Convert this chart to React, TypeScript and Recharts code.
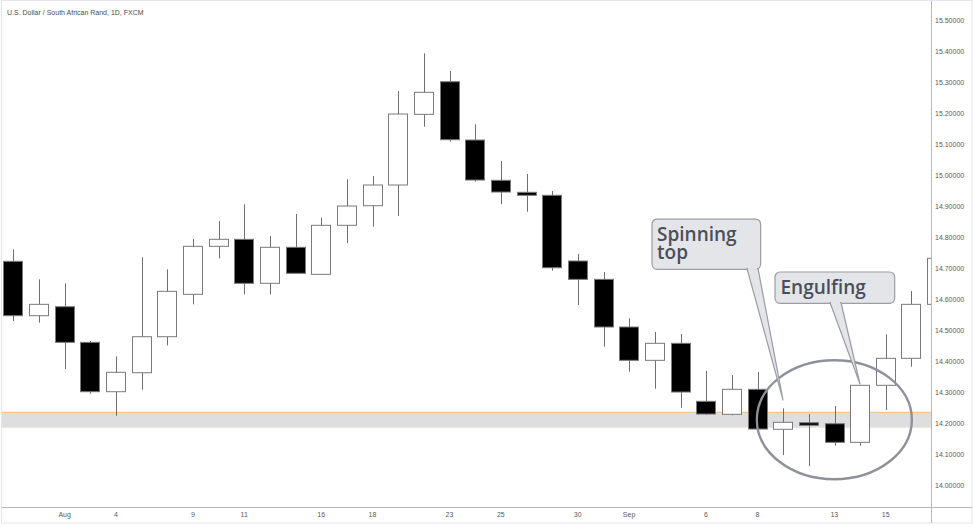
import React from 'react';
import { ComposedChart, Bar, XAxis, YAxis, ReferenceArea, ReferenceLine, ReferenceDot } from 'recharts';

const dates = ['Jul 29', 'Jul 30', 'Aug 2', 'Aug 3', 'Aug 4', 'Aug 5', 'Aug 6', 'Aug 9', 'Aug 10', 'Aug 11', 'Aug 12', 'Aug 13', 'Aug 16', 'Aug 17', 'Aug 18', 'Aug 19', 'Aug 20', 'Aug 23', 'Aug 24', 'Aug 25', 'Aug 26', 'Aug 27', 'Aug 30', 'Aug 31', 'Sep 1', 'Sep 2', 'Sep 3', 'Sep 6', 'Sep 7', 'Sep 8', 'Sep 9', 'Sep 10', 'Sep 13', 'Sep 14', 'Sep 15', 'Sep 16', 'Sep 17'];
const opens = [14.722, 14.5465, 14.5755, 14.4606, 14.3012, 14.3625, 14.4787, 14.6155, 14.7704, 14.793, 14.651, 14.7672, 14.68, 14.8382, 14.9014, 14.9682, 15.1963, 15.3015, 15.1134, 14.9834, 14.9447, 14.935, 14.723, 14.6639, 14.51, 14.4025, 14.4574, 14.2702, 14.2283, 14.3089, 14.1799, 14.2012, 14.1979, 14.1379, 14.3219, 14.409, 14.5832];
const highs = [14.7607, 14.6639, 14.651, 14.4648, 14.4154, 14.7349, 14.6962, 14.7939, 14.852, 14.9059, 14.8036, 14.8746, 14.8627, 14.9866, 14.9972, 15.2715, 15.3932, 15.3361, 15.1641, 15.0457, 15.0037, 14.9488, 14.7455, 14.6875, 14.5381, 14.4939, 14.4874, 14.368, 14.3551, 14.3648, 14.2476, 14.2292, 14.2551, 14.3225, 14.4864, 14.6261, 14.75];
const lows = [14.5293, 14.5239, 14.3745, 14.2947, 14.2238, 14.3077, 14.4509, 14.5832, 14.7317, 14.6155, 14.6155, 14.6825, 14.6795, 14.781, 14.8336, 14.8682, 15.1563, 15.1079, 14.9789, 14.9059, 14.882, 14.6917, 14.581, 14.4464, 14.3657, 14.3109, 14.2496, 14.227, 14.225, 14.1647, 14.0969, 14.0614, 14.1269, 14.1269, 14.2422, 14.3819, 14.57];
const closes = [14.5465, 14.5832, 14.4606, 14.3012, 14.3638, 14.4787, 14.6252, 14.7704, 14.793, 14.651, 14.7672, 14.6833, 14.8382, 14.9004, 14.9682, 15.1973, 15.2673, 15.1144, 14.9843, 14.9456, 14.935, 14.7013, 14.6639, 14.51, 14.4025, 14.4574, 14.3002, 14.2292, 14.3089, 14.1808, 14.2025, 14.1928, 14.1379, 14.3219, 14.409, 14.5832, 14.7317];

const tickIndex = [2, 4, 7, 9, 12, 14, 17, 19, 22, 24, 27, 29, 32, 34];
const tickLabels = ['Aug', '4', '9', '11', '16', '18', '23', '25', '30', 'Sep', '6', '8', '13', '15'];
const priceTicks = [14.0, 14.1, 14.2, 14.3, 14.4, 14.5, 14.6, 14.7, 14.8, 14.9, 15.0, 15.1, 15.2, 15.3, 15.4, 15.5];

const supportTop = 14.2347;
const supportBottom = 14.1863;

const data = dates.map((d, i) => ({
  i,
  date: d,
  o: opens[i],
  h: highs[i],
  l: lows[i],
  c: closes[i],
  range: [lows[i], highs[i]],
}));

const SMALL_FONT = '"Liberation Sans", Arial, sans-serif';
const NOTE_FONT = '"Open Sans", "Noto Sans", sans-serif';
const X_DOMAIN: [number, number] = [-0.4404, 35.787];
const Y_DOMAIN: [number, number] = [13.9276, 15.562];
const MARGIN = { top: 1, right: 0, bottom: 0, left: 2 };

const Candle = (props: any) => {
  const { x, y, width, height, payload } = props;
  if (payload == null || x == null) return null;
  const top = Math.min(y, y + height);
  const hgt = Math.abs(height);
  const span = payload.h - payload.l;
  const py = (v: number) => (span === 0 ? top : top + ((payload.h - v) / span) * hgt);
  const cx = Math.round(x + width / 2) + 0.5;
  const bull = payload.c >= payload.o;
  const bt = py(Math.max(payload.o, payload.c));
  const bb = py(Math.min(payload.o, payload.c));
  const bx = Math.round(x) + 0.5;
  return (
    <g>
      <line x1={cx} x2={cx} y1={top} y2={top + hgt} stroke="#6f6f6f" strokeWidth={1} />
      <rect
        x={bx}
        y={bt}
        width={width - 1}
        height={Math.max(bb - bt, 1.5)}
        fill={bull ? '#ffffff' : '#000000'}
        stroke="#7a7a7a"
        strokeWidth={1}
      />
    </g>
  );
};

const Callout = (props: any) => {
  const { cx, cy, box, tail, lines, textX, textY, lineHeight } = props;
  if (cx == null) return null;
  const [bx1, by1, bx2, by2] = box;
  const [t1, t2] = tail;
  return (
    <g>
      <rect x={cx + bx1} y={cy + by1} width={bx2 - bx1} height={by2 - by1} rx={5} ry={5} fill="#e4e5e9" stroke="#9a9da6" strokeWidth={1.2} />
      <polygon
        points={`${cx + t1},${cy + by2 - 0.8} ${cx},${cy} ${cx + t2},${cy + by2 - 0.8}`}
        fill="#e4e5e9"
        stroke="#9a9da6"
        strokeWidth={1.2}
        strokeLinejoin="round"
      />
      <line x1={cx + t1 + 1} x2={cx + t2 - 1} y1={cy + by2 - 0.8} y2={cy + by2 - 0.8} stroke="#e4e5e9" strokeWidth={2} />
      <text x={cx + textX} y={cy + textY} fontFamily={NOTE_FONT} fontWeight={600} fontSize={19} fill="#4a4e5a">
        {lines.map((t: string, k: number) => (
          <tspan key={k} x={cx + textX} dy={k === 0 ? 0 : lineHeight}>
            {t}
          </tspan>
        ))}
      </text>
    </g>
  );
};

const EllipseMark = (props: any) => {
  const { cx, cy } = props;
  if (cx == null) return null;
  return <ellipse cx={cx} cy={cy} rx={77.5} ry={59.5} fill="none" stroke="#8e919a" strokeWidth={2.4} />;
};

const xTickFormat = (v: number) => tickLabels[tickIndex.indexOf(v)] ?? '';
const yTickFormat = (v: number) => v.toFixed(5);

export default function App() {
  return (
    <div style={{ position: 'absolute', left: 0, top: 0, width: 974, height: 527, background: '#ffffff' }}>
      {/* bottom layer: axes labels and the support zone */}
      <div style={{ position: 'absolute', left: 0, top: 0 }}>
        <ComposedChart width={974} height={527} data={data} margin={MARGIN}>
          <XAxis
            dataKey="i"
            type="number"
            domain={X_DOMAIN}
            allowDataOverflow
            ticks={tickIndex}
            interval={0}
            tickFormatter={xTickFormat}
            axisLine={false}
            tickLine={false}
            tickSize={0}
            tickMargin={5}
            height={19.5}
            tick={{ fontSize: 7, fill: '#5a5a5a', fontFamily: SMALL_FONT }}
          />
          <YAxis
            orientation="right"
            type="number"
            domain={Y_DOMAIN}
            allowDataOverflow
            ticks={priceTicks}
            interval={0}
            tickFormatter={yTickFormat}
            axisLine={false}
            tickLine={false}
            tickSize={0}
            tickMargin={3.5}
            width={42.5}
            tick={{ fontSize: 7, fill: '#5a5a5a', fontFamily: SMALL_FONT, textAnchor: 'start' }}
          />
          <ReferenceArea y1={supportBottom} y2={supportTop} fill="#dedee0" fillOpacity={1} stroke="none" ifOverflow="hidden" />
          <ReferenceLine y={supportBottom} stroke="#eee2d0" strokeWidth={1} />
          <ReferenceLine y={supportTop} stroke="#f7c67e" strokeWidth={1.2} />
        </ComposedChart>
      </div>
      {/* top layer: candles and annotations */}
      <div style={{ position: 'absolute', left: 0, top: 0 }}>
        <ComposedChart width={974} height={527} data={data} margin={MARGIN}>
          <XAxis
            dataKey="i"
            type="number"
            domain={X_DOMAIN}
            allowDataOverflow
            ticks={tickIndex}
            tick={false}
            axisLine={false}
            tickLine={false}
            height={19.5}
          />
          <YAxis
            orientation="right"
            type="number"
            domain={Y_DOMAIN}
            allowDataOverflow
            ticks={priceTicks}
            tick={false}
            axisLine={false}
            tickLine={false}
            width={42.5}
          />
          <Bar dataKey="range" barSize={20} shape={<Candle />} isAnimationActive={false} />
          <ReferenceDot x={32} y={14.2108} r={1} ifOverflow="visible" shape={<EllipseMark />} />
          <ReferenceDot
            x={30}
            y={14.2744}
            r={1}
            ifOverflow="visible"
            shape={
              <Callout
                box={[-131, -181, -22.4, -130.7]}
                tail={[-36, -25]}
                lines={['Spinning', 'top']}
                textX={-126}
                textY={-158.7}
                lineHeight={17.8}
              />
            }
          />
          <ReferenceDot
            x={33}
            y={14.3261}
            r={1}
            ifOverflow="visible"
            shape={
              <Callout
                box={[-85, -112, 34.7, -80.7]}
                tail={[-30, -19]}
                lines={['Engulfing']}
                textX={-79.5}
                textY={-90.3}
                lineHeight={18}
              />
            }
          />
        </ComposedChart>
      </div>
      <svg width={974} height={527} style={{ position: 'absolute', left: 0, top: 0, pointerEvents: 'none' }}>
        <rect x={1.5} y={0.5} width={970.5} height={522.5} fill="none" stroke="#e4e5ee" strokeWidth={1} />
        <line x1={931.5} x2={931.5} y1={1} y2={523} stroke="#b8b8bc" strokeWidth={1} />
        <line x1={2} x2={972} y1={507.5} y2={507.5} stroke="#b8b8bc" strokeWidth={1} />
        <text x={7} y={15.2} fontSize={7} fontFamily={SMALL_FONT} fill="#4d4d4d">
          U.S. Dollar / South African Rand, 1D, FXCM
        </text>
      </svg>
    </div>
  );
}
